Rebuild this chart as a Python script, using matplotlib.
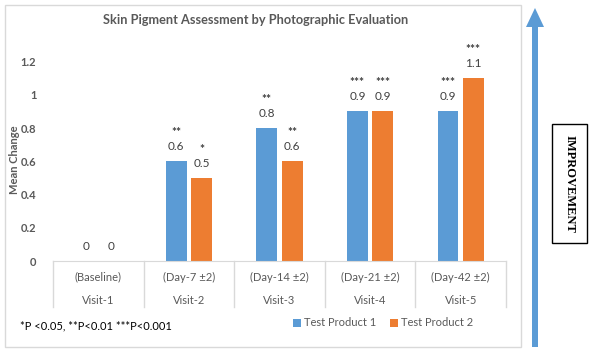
import numpy as np
import matplotlib
matplotlib.use("Agg")
import matplotlib.pyplot as plt
from matplotlib.patches import Rectangle, Polygon
import matplotlib.transforms as mtransforms

plt.rcParams['font.family'] = ['Lato', 'DejaVu Sans']

days = ["(Baseline)", "(Day-7 \u00b12)", "(Day-14 \u00b12)", "(Day-21 \u00b12)", "(Day-42 \u00b12)"]
visits = ["Visit-1", "Visit-2", "Visit-3", "Visit-4", "Visit-5"]
product1 = [0, 0.6, 0.8, 0.9, 0.9]
product2 = [0, 0.5, 0.6, 0.9, 1.1]
stars1 = ["", "**", "**", "***", "***"]
stars2 = ["", "*", "**", "***", "***"]

W, H = 596, 354
blue = "#5b9bd5"
orange = "#ed7d31"
grey = "#595959"
dark = "#404040"
line = "#d9d9d9"


def fx(px):
    return px / W


def fy(py):
    return 1 - py / H


fig = plt.figure(figsize=(W / 100, H / 100), dpi=100)

# chart border
fig.patches.append(Rectangle((fx(5), fy(347)), fx(521) - fx(5), fy(5) - fy(347),
                             transform=fig.transFigure, fill=False, edgecolor=line, lw=1))

ax = fig.add_axes([fx(53), fy(261), fx(506) - fx(53), fy(45) - fy(261)])
x = np.arange(len(visits))
bw = 0.23
off = 0.14
ax.bar(x - off, product1, bw, color=blue, label="Test Product 1")
ax.bar(x + off, product2, bw, color=orange, label="Test Product 2")

ax.set_xlim(-0.5, len(visits) - 0.5)
ax.set_ylim(0, 1.3)
ax.set_yticks([0, 0.2, 0.4, 0.6, 0.8, 1.0, 1.2])
ax.set_yticklabels(["0", "0.2", "0.4", "0.6", "0.8", "1", "1.2"])
for t in ax.get_yticklabels():
    t.set_fontweight("bold")
    t.set_color(grey)
    t.set_fontsize(8)
ax.tick_params(axis="y", length=0, pad=12)
ax.set_xticks([])
for s in ["top", "right", "left"]:
    ax.spines[s].set_visible(False)
ax.spines["bottom"].set_color(line)

# value labels and stars
for i in range(len(visits)):
    for xx, v, st in [(x[i] - off, product1[i], stars1[i]), (x[i] + off, product2[i], stars2[i])]:
        ax.annotate(f"{v:g}", (xx, v), xytext=(0, 9), textcoords="offset pixels",
                    ha="center", va="bottom", fontsize=8.5, color=dark)
        if st:
            ax.annotate(st, (xx, v), xytext=(0, 23), textcoords="offset pixels",
                        ha="center", va="bottom", fontsize=8.5, fontweight="bold", color=dark)

# category separators and labels
trans = mtransforms.blended_transform_factory(ax.transData, ax.transAxes)
for b in np.arange(len(visits) + 1) - 0.5:
    ax.plot([b, b], [0, -46 / 216], color=line, lw=1, transform=trans, clip_on=False)
for i in range(len(visits)):
    ax.text(x[i], -16 / 216, days[i], transform=trans, ha="center", va="center",
            fontsize=8, color=grey)
    ax.text(x[i], -39 / 216, visits[i], transform=trans, ha="center", va="center",
            fontsize=8, color=grey)

fig.text(fx(256), fy(20), "Skin Pigment Assessment by Photographic Evaluation",
         ha="center", va="center", fontsize=9.2, fontweight="bold", color=grey)
fig.text(fx(15), fy(160), "Mean Change", rotation=90, ha="center", va="center",
         fontsize=8, fontweight="bold", color=grey)
fig.text(fx(20), fy(326), "*P <0.05, **P<0.01 ***P<0.001", ha="left", va="center",
         fontsize=8, color="black")

fig.legend(loc="center", bbox_to_anchor=(fx(383), fy(323)), ncol=2, frameon=False,
           fontsize=8, handlelength=0.7, handleheight=0.7, handletextpad=0.3,
           columnspacing=1.2, labelcolor=grey)

# improvement arrow
pts = [(532, 347), (538, 347), (538, 27), (544, 27), (535, 8), (526, 27), (532, 27)]
fig.patches.append(Polygon([(fx(a), fy(b)) for a, b in pts], closed=True,
                           transform=fig.transFigure, color=blue, lw=0))

fig.patches.append(Rectangle((fx(552), fy(243)), fx(587) - fx(552), fy(124) - fy(243),
                             transform=fig.transFigure, fill=False, edgecolor="black", lw=1))
fig.text(fx(569.5), fy(183.5), "IMPROVEMENT", rotation=-90, ha="center", va="center",
         fontsize=9, fontweight="bold", family="Liberation Serif", color="black")

fig.savefig("out.png", dpi=100)
